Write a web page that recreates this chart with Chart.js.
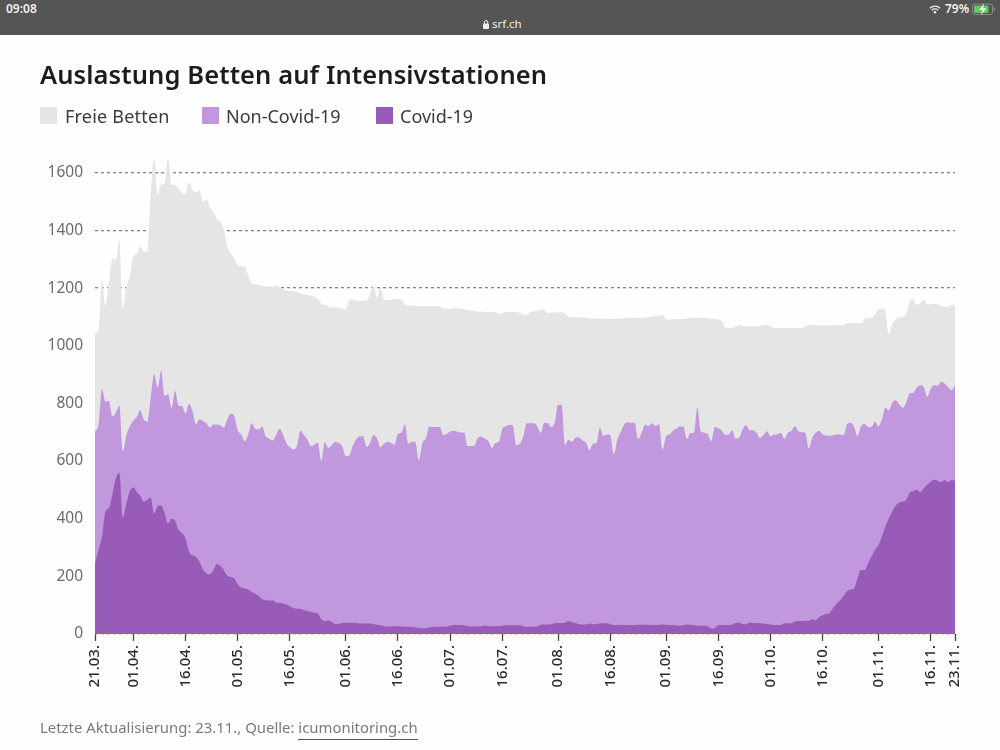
<!DOCTYPE html>
<html lang="de">

<head>
    <meta charset="UTF-8">
    <title>Auslastung Betten auf Intensivstationen</title>
    <script src="https://cdn.jsdelivr.net/npm/chart.js"></script>
    <style>
        html, body { margin: 0; padding: 0; background: #fefefe; }
        body { width: 1000px; height: 750px; position: relative; overflow: hidden; font-family: "Noto Sans", sans-serif; }
        .abs { position: absolute; white-space: nowrap; }
        #bar { left: 0; top: 0; width: 1000px; height: 35px; background: #555555; }
        #bar span { position: absolute; color: #f0f0f0; }
        #title { left: 40px; top: 57px; font-size: 25.5px; font-weight: 600; color: #1c1c1c; letter-spacing: 0.1px; }
        .swatch { width: 17px; height: 17px; top: 107px; }
        .legend { top: 104px; font-size: 18px; color: #3a3a3a; }
        #footer { left: 40px; top: 717px; font-size: 14.9px; color: #7a7a78; }
        #footer a { color: #7a7a78; text-decoration: none; border-bottom: 1px solid #55554f; padding-bottom: 2px; }
        #chart { position: absolute; left: 0; top: 0; }
    </style>
</head>

<body>
    <canvas id="chart" width="1000" height="750"></canvas>

    <div id="bar" class="abs">
        <span style="left:6px;top:0px;font-size:12px;font-weight:600">09:08</span>
        <svg style="position:absolute;left:482px;top:19px" width="8" height="11" viewBox="0 0 8 11">
            <rect x="1" y="4.5" width="6" height="5.5" rx="1" fill="#f0f0f0"/>
            <path d="M2.3 5V3.2a1.7 1.7 0 0 1 3.4 0V5" fill="none" stroke="#f0f0f0" stroke-width="1"/>
        </svg>
        <span style="left:492px;top:16px;font-size:11.5px">srf.ch</span>
        <svg style="position:absolute;left:929px;top:5px" width="12" height="9" viewBox="0 0 12 9">
            <path d="M1 3.2a7 7 0 0 1 10 0M3 5.2a4.2 4.2 0 0 1 6 0" fill="none" stroke="#f0f0f0" stroke-width="1.3"/>
            <circle cx="6" cy="7.3" r="1.2" fill="#f0f0f0"/>
        </svg>
        <span style="left:945px;top:0px;font-size:12px;font-weight:600">79%</span>
        <svg style="position:absolute;left:972px;top:3px" width="24" height="13" viewBox="0 0 24 13">
            <rect x="0.5" y="1" width="20" height="10.5" rx="2.5" fill="none" stroke="#8a8a8a"/>
            <rect x="2" y="2.5" width="14.5" height="7.5" rx="1" fill="#5cc95c"/>
            <path d="M12 0.5 7 7h3.4L9 12l5.5-6.8h-3.4z" fill="#f5f5f5"/>
            <rect x="21.7" y="4.5" width="1.2" height="3.5" fill="#8a8a8a"/>
        </svg>
    </div>

    <div id="title" class="abs">Auslastung Betten auf Intensivstationen</div>

    <div class="abs swatch" style="left:40px;background:#e5e5e6"></div>
    <div class="abs legend" style="left:65px;letter-spacing:0.2px">Freie Betten</div>
    <div class="abs swatch" style="left:202px;background:#c198de"></div>
    <div class="abs legend" style="left:226px">Non-Covid-19</div>
    <div class="abs swatch" style="left:376px;background:#985bb7"></div>
    <div class="abs legend" style="left:400px">Covid-19</div>

    <div id="footer" class="abs">Letzte Aktualisierung: 23.11., Quelle: <a>icumonitoring.ch</a></div>

    <script>
        // Werte, je ein Wert pro Tag ab 21.03.
        // Die Flaechen sind gestapelt gezeichnet, darum steht hier jeweils die Oberkante auf der y-Achse
        const totalBeds = [
            1043, 1053, 1229, 1140, 1220, 1302, 1297, 1366, 1134, 1204,
            1239, 1308, 1320, 1345, 1326, 1326, 1530, 1651, 1523, 1560,
            1562, 1655, 1558, 1558, 1543, 1529, 1527, 1567, 1541, 1531,
            1541, 1498, 1508, 1479, 1465, 1438, 1430, 1401, 1343, 1320,
            1302, 1279, 1276, 1276, 1244, 1218, 1213, 1210, 1207, 1206,
            1206, 1204, 1210, 1204, 1198, 1192, 1190, 1189, 1187, 1182,
            1178, 1176, 1174, 1170, 1163, 1146, 1142, 1136, 1132, 1134,
            1132, 1128, 1126, 1157, 1161, 1155, 1155, 1156, 1157, 1178,
            1210, 1167, 1204, 1160, 1160, 1160, 1163, 1161, 1160, 1143,
            1140, 1140, 1139, 1138, 1137, 1138, 1138, 1137, 1137, 1136,
            1129, 1128, 1128, 1131, 1130, 1130, 1127, 1124, 1122, 1120,
            1119, 1119, 1117, 1117, 1117, 1116, 1110, 1114, 1116, 1116,
            1117, 1116, 1114, 1108, 1107, 1117, 1119, 1121, 1126, 1124,
            1113, 1115, 1115, 1116, 1116, 1113, 1099, 1099, 1099, 1098,
            1098, 1098, 1095, 1095, 1095, 1095, 1094, 1094, 1093, 1094,
            1095, 1095, 1095, 1097, 1097, 1097, 1097, 1097, 1098, 1101,
            1101, 1104, 1104, 1108, 1091, 1090, 1092, 1093, 1093, 1093,
            1095, 1097, 1097, 1097, 1097, 1097, 1095, 1094, 1093, 1091,
            1085, 1064, 1062, 1062, 1068, 1072, 1069, 1068, 1068, 1068,
            1068, 1069, 1071, 1072, 1066, 1062, 1062, 1062, 1062, 1062,
            1062, 1062, 1062, 1062, 1066, 1071, 1073, 1071, 1070, 1070,
            1070, 1070, 1070, 1072, 1071, 1071, 1078, 1079, 1079, 1079,
            1077, 1092, 1096, 1097, 1108, 1125, 1129, 1118, 1041, 1076,
            1093, 1099, 1099, 1111, 1151, 1161, 1141, 1148, 1161, 1143,
            1144, 1146, 1144, 1137, 1136, 1135, 1141, 1137
        ];
        const nonCovidTop = [
            702, 727, 849, 806, 809, 756, 768, 793, 634, 690,
            721, 741, 753, 776, 745, 737, 820, 902, 855, 913,
            826, 832, 785, 843, 793, 791, 766, 799, 774, 727,
            745, 739, 731, 716, 727, 727, 724, 716, 745, 764,
            756, 707, 692, 669, 692, 731, 712, 710, 720, 687,
            678, 671, 690, 712, 692, 661, 648, 640, 652, 706,
            690, 675, 652, 657, 664, 602, 666, 646, 655, 667,
            663, 652, 617, 619, 652, 675, 686, 686, 649, 663,
            690, 678, 648, 660, 667, 663, 657, 695, 698, 727,
            660, 667, 667, 603, 663, 678, 721, 718, 718, 718,
            690, 695, 702, 706, 702, 699, 699, 652, 652, 654,
            681, 684, 677, 669, 646, 663, 667, 713, 721, 725,
            724, 655, 660, 686, 731, 731, 731, 721, 698, 732,
            732, 718, 733, 795, 795, 657, 674, 667, 681, 683,
            671, 664, 638, 660, 663, 715, 688, 692, 690, 625,
            675, 702, 727, 735, 733, 733, 677, 698, 727, 722,
            731, 722, 728, 640, 686, 692, 706, 713, 720, 719,
            676, 697, 699, 785, 704, 698, 692, 669, 718, 715,
            706, 691, 692, 706, 678, 681, 710, 724, 707, 707,
            698, 681, 690, 703, 686, 692, 693, 698, 677, 698,
            704, 721, 704, 700, 698, 644, 681, 698, 704, 692,
            688, 688, 689, 692, 692, 690, 729, 733, 721, 687,
            721, 729, 719, 718, 736, 721, 745, 785, 776, 803,
            811, 797, 785, 803, 835, 836, 855, 863, 857, 824,
            849, 863, 861, 875, 869, 857, 846, 864
        ];
        const covid = [
            245, 291, 338, 425, 437, 485, 541, 559, 405, 454,
            495, 509, 493, 480, 460, 466, 474, 419, 443, 446,
            419, 384, 400, 393, 361, 350, 332, 286, 272, 268,
            251, 225, 210, 207, 222, 243, 237, 222, 202, 198,
            193, 172, 161, 158, 154, 146, 140, 132, 121, 118,
            116, 117, 109, 108, 106, 102, 96, 90, 88, 88,
            82, 80, 76, 74, 71, 51, 46, 47, 42, 35,
            35, 38, 39, 39, 39, 39, 36, 37, 36, 36,
            34, 32, 30, 27, 27, 26, 27, 27, 26, 25,
            25, 24, 23, 22, 20, 20, 23, 24, 25, 25,
            26, 26, 29, 31, 31, 31, 30, 27, 26, 26,
            27, 27, 30, 27, 27, 27, 27, 29, 30, 30,
            30, 30, 30, 27, 25, 25, 25, 26, 32, 33,
            33, 34, 37, 38, 38, 39, 45, 41, 38, 34,
            33, 33, 36, 34, 34, 37, 37, 37, 34, 31,
            32, 31, 31, 31, 31, 31, 32, 32, 32, 32,
            31, 31, 31, 33, 32, 31, 31, 29, 29, 30,
            33, 32, 31, 29, 29, 29, 27, 19, 20, 31,
            31, 31, 31, 33, 38, 40, 34, 34, 40, 38,
            38, 37, 36, 34, 34, 31, 31, 31, 37, 37,
            37, 43, 45, 45, 46, 46, 51, 48, 59, 65,
            69, 74, 90, 105, 117, 132, 149, 154, 158, 193,
            222, 222, 245, 268, 291, 309, 338, 373, 402, 425,
            446, 456, 460, 466, 491, 495, 501, 492, 506, 518,
            527, 535, 532, 527, 533, 527, 533, 533
        ];
        const xTickLabels = ['21.03.', '01.04.', '16.04.', '01.05.', '16.05.', '01.06.', '16.06.', '01.07.', '16.07.', '01.08.', '16.08.', '01.09.', '16.09.', '01.10.', '16.10.', '01.11.', '16.11.', '23.11.'];
        const yTickValues = [0, 200, 400, 600, 800, 1000, 1200, 1400, 1600];

        // Tagesachse, 248 Tage ab 21.03.
        const days = [];
        for (let i = 0; i < totalBeds.length; i++) {
            const d = new Date(Date.UTC(2020, 2, 21 + i));
            days.push(String(d.getUTCDate()).padStart(2, '0') + '.' + String(d.getUTCMonth() + 1).padStart(2, '0') + '.');
        }

        function area(label, data, color) {
            return {
                label: label,
                data: data,
                backgroundColor: color,
                borderWidth: 0,
                pointRadius: 0,
                fill: 'origin',
                cubicInterpolationMode: 'monotone'
            };
        }

        new Chart(document.getElementById('chart').getContext('2d'), {
            type: 'line',
            data: {
                labels: days,
                datasets: [
                    area('Covid-19', covid, '#985bb7'),
                    area('Non-Covid-19', nonCovidTop, '#c198de'),
                    area('Freie Betten', totalBeds, '#e5e5e6')
                ]
            },
            options: {
                responsive: false,
                animation: false,
                layout: { padding: { top: 144, right: 45 } },
                plugins: { legend: { display: false }, tooltip: { enabled: false } },
                scales: {
                    x: {
                        afterFit: function (scale) { scale.height = 116; },
                        afterBuildTicks: function (scale) {
                            scale.ticks = scale.ticks.filter(t => xTickLabels.includes(days[t.value]));
                        },
                        border: { display: false },
                        grid: { drawOnChartArea: false, tickLength: 7, tickColor: '#444444', tickWidth: 1.3 },
                        ticks: {
                            autoSkip: false,
                            minRotation: 90,
                            maxRotation: 90,
                            padding: 4,
                            color: '#2b2b2b',
                            font: { family: '"Noto Sans"', size: 15, weight: '500' }
                        }
                    },
                    y: {
                        min: 0,
                        max: 1700,
                        afterFit: function (scale) { scale.width = 95; },
                        afterBuildTicks: function (scale) {
                            scale.ticks = yTickValues.map(v => ({ value: v }));
                        },
                        border: { display: false, dash: [3, 3] },
                        grid: { color: '#868686', lineWidth: 1.3, drawTicks: false },
                        ticks: {
                            padding: 12,
                            color: '#6b6b68',
                            font: { family: '"Noto Sans"', size: 15.5 },
                            callback: function (value) { return String(value); }
                        }
                    }
                }
            }
        });
    </script>
</body>

</html>
